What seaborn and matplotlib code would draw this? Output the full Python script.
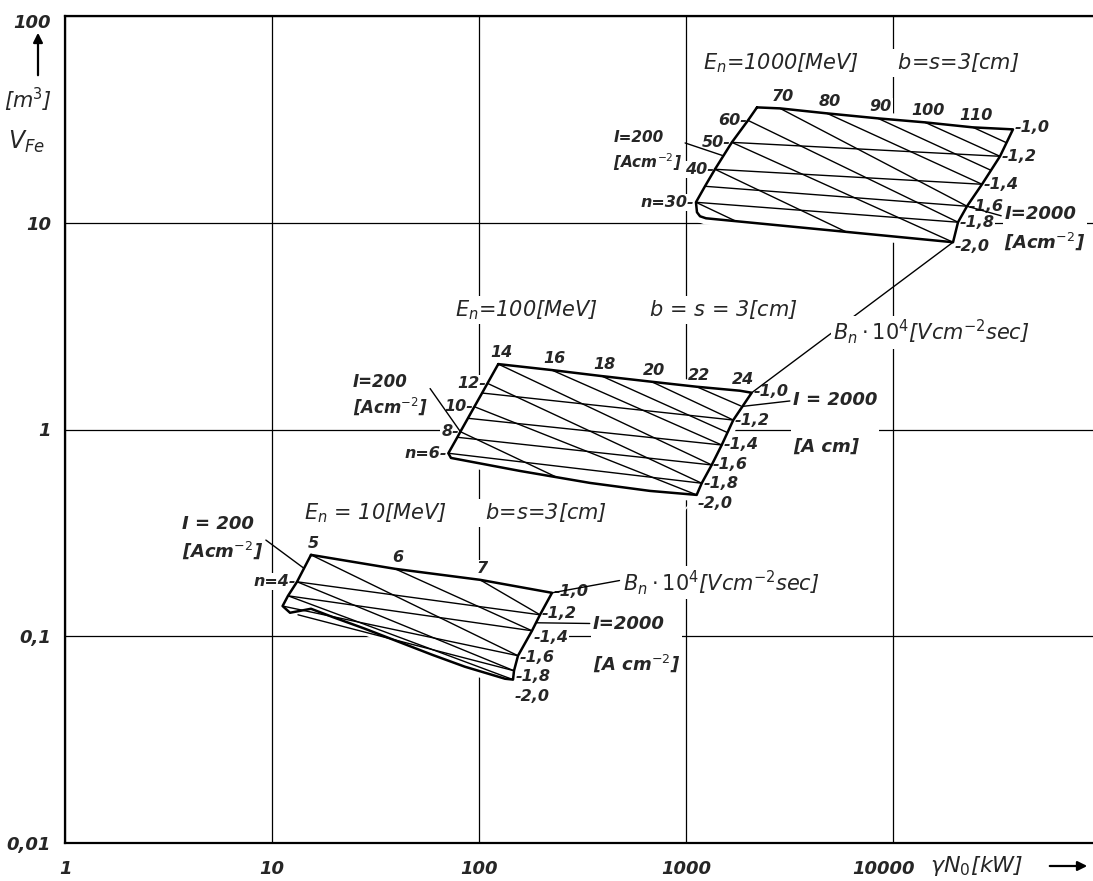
import matplotlib as mpl

mpl.use('Agg')
import numpy as np
import pandas as pd
import matplotlib.pyplot as plt
import matplotlib.transforms as mtrans
import seaborn as sns

sns.set_style("white")
plt.rcParams['font.family'] = ['DejaVu Sans']
plt.rcParams['mathtext.fontset'] = 'dejavusans'
plt.rcParams['mathtext.default'] = 'it'

# ---------------- values ----------------
# x = gamma*N0 [kW], y = V_Fe [m^3]

# E_n = 1000 MeV
e1000_corner_x = [2203]
e1000_corner_y = [36.14]
e1000_top_lbl = ['70', '80', '90', '100', '110']
e1000_top_x = [2846, 4800, 8463, 14275, 24350]
e1000_top_y = [35.74, 33.81, 31.98, 30.59, 28.93]
e1000_right_lbl = ['1,0', '1,2', '1,4', '1,6', '1,8', '2,0']
e1000_right_x = [37980, 32880, 26920, 22780, 20610, 19500]
e1000_right_y = [28.29, 20.96, 15.35, 12.02, 10.06, 8.05]
e1000_left_lbl = ['60', '50', '40', '', 'n=30']
e1000_left_x = [1993, 1665, 1380, 1235, 1117]
e1000_left_y = [31.27, 24.48, 18.14, 15.01, 12.56]
e1000_bottom_x = [1130, 1169, 1249]
e1000_bottom_y = [11.24, 10.75, 10.51]
e1000_diag_x0 = [24350, 14275, 8463, 4800, 2846, 1993, 1665, 1380, 1117]
e1000_diag_y0 = [28.93, 30.59, 31.98, 33.81, 35.74, 31.27, 24.48, 18.14, 12.56]
e1000_diag_x1 = [35340, 32880, 29750, 26920, 22780, 20610, 19500, 5930, 1744]
e1000_diag_y1 = [24.38, 20.96, 17.93, 15.35, 12.02, 10.06, 8.05, 9.04, 10.17]
e1000_hor_x0 = [1665, 1380, 1235, 1117]
e1000_hor_y0 = [24.48, 18.14, 15.01, 12.56]
e1000_hor_x1 = [32880, 26920, 22780, 20610]
e1000_hor_y1 = [20.96, 15.35, 12.02, 10.06]

# E_n = 100 MeV
e100_top_lbl = ['14', '16', '18', '20', '22', '24']
e100_top_x = [123.9, 224.5, 391.6, 682.9, 1126, 1823]
e100_top_y = [2.072, 1.939, 1.813, 1.702, 1.610, 1.540]
e100_right_lbl = ['1,0', '1,2', '1,4', '1,6', '1,8', '2,0']
e100_right_x = [2077, 1692, 1488, 1331, 1191, 1126]
e100_right_y = [1.506, 1.111, 0.8415, 0.6738, 0.5497, 0.4827]
e100_left_lbl = ['12', '', '10', '', '8', '', 'n=6']
e100_left_x = [109.9, 103.5, 95.0, 88.4, 81.3, 78.6, 71.1]
e100_left_y = [1.672, 1.501, 1.289, 1.133, 0.9759, 0.9170, 0.7675]
e100_bottom_x = [73.2, 157.8, 343.7, 670.1]
e100_bottom_y = [0.7286, 0.6302, 0.5516, 0.5046]
e100_diag_x0 = [1126, 682.9, 391.6, 224.5, 123.9, 109.9, 95.0, 81.3]
e100_diag_y0 = [1.610, 1.702, 1.813, 1.939, 2.072, 1.672, 1.289, 0.9759]
e100_diag_x1 = [1844, 1692, 1587, 1488, 1331, 1191, 1126, 235.5]
e100_diag_y1 = [1.299, 1.111, 0.9661, 0.8415, 0.6738, 0.5497, 0.4827, 0.5897]
e100_hor_x0 = [103.5, 88.4, 78.6, 71.1]
e100_hor_y0 = [1.501, 1.133, 0.9170, 0.7675]
e100_hor_x1 = [1692, 1488, 1331, 1191]
e100_hor_y1 = [1.111, 0.8415, 0.6738, 0.5497]

# E_n = 10 MeV
e10_top_lbl = ['5', '6', '7']
e10_top_x = [15.43, 39.30, 101.1]
e10_top_y = [0.2475, 0.2119, 0.1875]
e10_right_lbl = ['1,0', '1,2', '1,4', '1,6', '1,8', '2,0']
e10_right_x = [225.3, 197.1, 180.3, 154.3, 147.6, 146.0]
e10_right_y = [0.1622, 0.1270, 0.1063, 0.0805, 0.0681, 0.0617]
e10_left_lbl = ['n=4', '', '']
e10_left_x = [13.21, 11.95, 11.25]
e10_left_y = [0.1834, 0.1569, 0.1400]
e10_bottom_x = [12.22, 15.43, 19.49, 28.13, 59.30, 85.56, 133.6]
e10_bottom_y = [0.1299, 0.1358, 0.1242, 0.1087, 0.0814, 0.0712, 0.0623]
e10_diag_x0 = [101.1, 39.30, 15.43, 13.21, 11.95]
e10_diag_y0 = [0.1875, 0.2119, 0.2475, 0.1834, 0.1569]
e10_diag_x1 = [197.1, 180.3, 154.3, 147.6, 146.0]
e10_diag_y1 = [0.1270, 0.1063, 0.0805, 0.0681, 0.0617]
e10_hor_x0 = [13.21, 11.95, 11.25, 13.35]
e10_hor_y0 = [0.1834, 0.1569, 0.1400, 0.1270]
e10_hor_x1 = [197.1, 180.3, 154.3, 147.6]
e10_hor_y1 = [0.1270, 0.1063, 0.0805, 0.0681]

x_ticks = [1, 10, 100, 1000, 10000]
x_tick_lbl = ['1', '10', '100', '1000', '10000']
y_ticks = [0.01, 0.1, 1, 10, 100]
y_tick_lbl = ['0,01', '0,1', '1', '10', '100']

# ---------------------------------------------------------------
paper = dict(boxstyle='square,pad=0.05', fc='white', ec='none')
num_kw = dict(fontsize=11.5, fontweight='bold', style='italic', zorder=2, bbox=paper)
txt_kw = dict(fontsize=15, style='italic', zorder=5,
              bbox=dict(boxstyle='square,pad=0.1', fc='white', ec='none'))
lead = dict(arrowstyle='-', lw=1.0, color='black', shrinkA=1, shrinkB=0)


def seg_frame(x0, y0, x1, y1, tag):
    rows = []
    for i, (a, b, c, d) in enumerate(zip(x0, y0, x1, y1)):
        rows.append((f'{tag}{i}', a, b))
        rows.append((f'{tag}{i}', c, d))
    return pd.DataFrame(rows, columns=['seg', 'x', 'y'])


def draw_block(ax, name, corner_x, corner_y, top_x, top_y, top_lbl,
               right_x, right_y, right_lbl, left_x, left_y, left_lbl,
               bottom_x, bottom_y, dx0, dy0, dx1, dy1, hx0, hy0, hx1, hy1, right_dy):
    ox = corner_x + top_x + right_x + bottom_x[::-1] + left_x[::-1]
    oy = corner_y + top_y + right_y + bottom_y[::-1] + left_y[::-1]
    ox = ox + ox[:1]
    oy = oy + oy[:1]
    # white paper under the block (interrupts the grid like the drawing)
    ax.fill(ox, oy, facecolor='white', edgecolor='white', lw=9, zorder=1.5)
    outline = pd.DataFrame({'x': ox, 'y': oy})
    sns.lineplot(data=outline, x='x', y='y', sort=False, estimator=None,
                 color='black', lw=1.8, ax=ax, zorder=4)
    inner = pd.concat([seg_frame(dx0, dy0, dx1, dy1, name + 'd'),
                       seg_frame(hx0, hy0, hx1, hy1, name + 'h')])
    sns.lineplot(data=inner, x='x', y='y', units='seg', sort=False,
                 estimator=None, color='black', lw=1.0, ax=ax, zorder=3,
                 legend=False)
    for lbl, x, y in zip(top_lbl, top_x, top_y):
        ax.annotate(lbl, (x, y), xytext=(2, 3), textcoords='offset points',
                    ha='center', va='bottom', **num_kw)
    for lbl, x, y in zip(left_lbl, left_x, left_y):
        if lbl:
            ax.annotate(lbl + '-', (x, y), xytext=(-1, 0), textcoords='offset points',
                        ha='right', va='center', **num_kw)
    for lbl, x, y, dy in zip(right_lbl, right_x, right_y, right_dy):
        ax.annotate('-' + lbl, (x, y), xytext=(1, dy), textcoords='offset points',
                    ha='left', va='center', **num_kw)


fig = plt.figure(figsize=(10.93, 8.81), dpi=100)
ax = fig.add_axes([65 / 1093, 38 / 881, 1028 / 1093, 827 / 881])
ax.set_xscale('log')
ax.set_yscale('log')
ax.set_xlim(1, 10 ** (1028 / 207))
ax.set_ylim(0.01, 100)
ax.set_axisbelow(True)
ax.grid(True, which='major', color='black', lw=0.9)
ax.set_xticks(x_ticks)
ax.set_xticklabels(x_tick_lbl)
ax.set_yticks(y_ticks)
ax.set_yticklabels(y_tick_lbl)
ax.minorticks_off()
ax.tick_params(length=0, labelsize=13)
ax.tick_params(axis='x', pad=12)
ax.tick_params(axis='y', pad=10)
for t in ax.get_xticklabels() + ax.get_yticklabels():
    t.set_fontweight('bold')
    t.set_fontstyle('italic')
last = ax.get_xticklabels()[-1]
last.set_transform(last.get_transform() + mtrans.ScaledTranslation(-10 / 100, 0, fig.dpi_scale_trans))
top_lbl = ax.get_yticklabels()[-1]
top_lbl.set_transform(top_lbl.get_transform() + mtrans.ScaledTranslation(0, -5 / 100, fig.dpi_scale_trans))
for side in ['left', 'bottom', 'top']:
    ax.spines[side].set_linewidth(1.6)
    ax.spines[side].set_color('black')
ax.spines['right'].set_visible(False)

draw_block(ax, 'a', e1000_corner_x, e1000_corner_y, e1000_top_x, e1000_top_y, e1000_top_lbl,
           e1000_right_x, e1000_right_y, e1000_right_lbl, e1000_left_x, e1000_left_y,
           e1000_left_lbl, e1000_bottom_x, e1000_bottom_y,
           e1000_diag_x0, e1000_diag_y0, e1000_diag_x1, e1000_diag_y1,
           e1000_hor_x0, e1000_hor_y0, e1000_hor_x1, e1000_hor_y1,
           right_dy=[1, 0, 0, 0, 0, -3])
draw_block(ax, 'b', [], [], e100_top_x, e100_top_y, e100_top_lbl,
           e100_right_x, e100_right_y, e100_right_lbl, e100_left_x, e100_left_y,
           e100_left_lbl, e100_bottom_x, e100_bottom_y,
           e100_diag_x0, e100_diag_y0, e100_diag_x1, e100_diag_y1,
           e100_hor_x0, e100_hor_y0, e100_hor_x1, e100_hor_y1,
           right_dy=[1, 0, 0, 0, 0, -6])
draw_block(ax, 'c', [], [], e10_top_x, e10_top_y, e10_top_lbl,
           e10_right_x, e10_right_y, e10_right_lbl, e10_left_x, e10_left_y,
           e10_left_lbl, e10_bottom_x, e10_bottom_y,
           e10_diag_x0, e10_diag_y0, e10_diag_x1, e10_diag_y1,
           e10_hor_x0, e10_hor_y0, e10_hor_x1, e10_hor_y1,
           right_dy=[1, 1, -5, -1, -4, -12])

# headings of the three blocks
ax.text(1208, 59, r'$E_n$=1000[MeV]      b=s=3[cm]', ha='left', va='center', **txt_kw)
ax.text(76.6, 3.78, r'$E_n$=100[MeV]        b = s = 3[cm]', ha='left', va='center', **txt_kw)
ax.text(14.3, 0.395, r'$E_n$ = 10[MeV]      b=s=3[cm]', ha='left', va='center', **txt_kw)


def i_kw(size, spacing):
    return dict(fontsize=size, fontweight='bold', style='italic', zorder=5,
                linespacing=spacing, bbox=dict(boxstyle='square,pad=0.1', fc='white', ec='none'))


# current density leaders, I = 200 on the left edges
gm = lambda a, b: float(np.sqrt(a * b))
ax.annotate('I=200\n[Acm$^{-2}$]', xy=(gm(e1000_left_x[1], e1000_left_x[2]), gm(e1000_left_y[1], e1000_left_y[2])),
            xytext=(445, 22.1), ha='left', va='center',
            arrowprops=dict(relpos=(1, 0.72), **lead), **i_kw(11, 1.4))
ax.annotate('I=200\n[Acm$^{-2}$]', xy=(e100_left_x[4], e100_left_y[4]),
            xytext=(24.5, 1.47), ha='left', va='center',
            arrowprops=dict(relpos=(1, 0.72), **lead), **i_kw(12, 1.3))
ax.annotate('I = 200\n[Acm$^{-2}$]', xy=(gm(e10_top_x[0], e10_left_x[0]), gm(e10_top_y[0], e10_left_y[0])),
            xytext=(3.67, 0.299), ha='left', va='center',
            arrowprops=dict(relpos=(1, 0.5), **lead), **i_kw(13, 1.4))

# I = 2000 on the right edges
ax.annotate('I=2000\n[Acm$^{-2}$]', xy=(e1000_right_x[3], e1000_right_y[3]),
            xytext=(34500, 9.4), ha='left', va='center',
            arrowprops=dict(relpos=(0, 0.75), **lead), **i_kw(13, 1.4))
ax.annotate('I = 2000\n\n[A cm]', xy=(gm(e100_right_x[0], e100_right_x[1]), gm(e100_right_y[0], e100_right_y[1])),
            xytext=(3289, 1.07), ha='left', va='center',
            arrowprops=dict(relpos=(0, 0.85), **lead), **i_kw(13, 1.4))
ax.annotate('I=2000\n\n[A cm$^{-2}$]', xy=(gm(e10_right_x[1], e10_right_x[2]), gm(e10_right_y[1], e10_right_y[2])),
            xytext=(355, 0.0915), ha='left', va='center',
            arrowprops=dict(relpos=(0, 0.85), **lead), **i_kw(13, 1.05))

# B_n scale leaders
bn_txt = r'$B_n\cdot10^4$[Vcm$^{-2}$sec]'
ax.plot([e1000_right_x[-1], e100_right_x[0]], [e1000_right_y[-1], e100_right_y[0]],
        color='black', lw=1.0, zorder=3)
ax.text(5129, 2.96, bn_txt, ha='left', va='center', **txt_kw)
ax.annotate('', xy=(e100_right_x[-1], e100_right_y[-1]), xytext=(606, 0.219),
            arrowprops=dict(arrowstyle='-', lw=1.0, shrinkA=0, shrinkB=4))
ax.annotate(bn_txt, xy=(e10_right_x[0], e10_right_y[0]), xytext=(496, 0.1814),
            ha='left', va='center', arrowprops=dict(relpos=(0, 0.6), **lead), **txt_kw)

# axis titles
fig.text(0.0256, 0.8865, '[m$^3$]', ha='center', va='center', fontsize=15, style='italic')
fig.text(0.0247, 0.8388, r'$V_{Fe}$', ha='center', va='center', fontsize=17, fontweight='bold')
ax.annotate('', xy=(38 / 1093, 1 - 30 / 881), xytext=(38 / 1093, 1 - 78 / 881),
            xycoords='figure fraction', textcoords='figure fraction',
            arrowprops=dict(arrowstyle='-|>', lw=1.6, color='black', mutation_scale=14))
fig.text(930 / 1093, 1 - 866 / 881, r'$\gamma N_0$[kW]', ha='left', va='center',
         fontsize=16, style='italic')
ax.annotate('', xy=(1090 / 1093, 1 - 866 / 881), xytext=(1047 / 1093, 1 - 866 / 881),
            xycoords='figure fraction', textcoords='figure fraction',
            arrowprops=dict(arrowstyle='-|>', lw=1.6, color='black', mutation_scale=14))

ax.set_xlabel('')
ax.set_ylabel('')
fig.savefig('out.png', dpi=100)
